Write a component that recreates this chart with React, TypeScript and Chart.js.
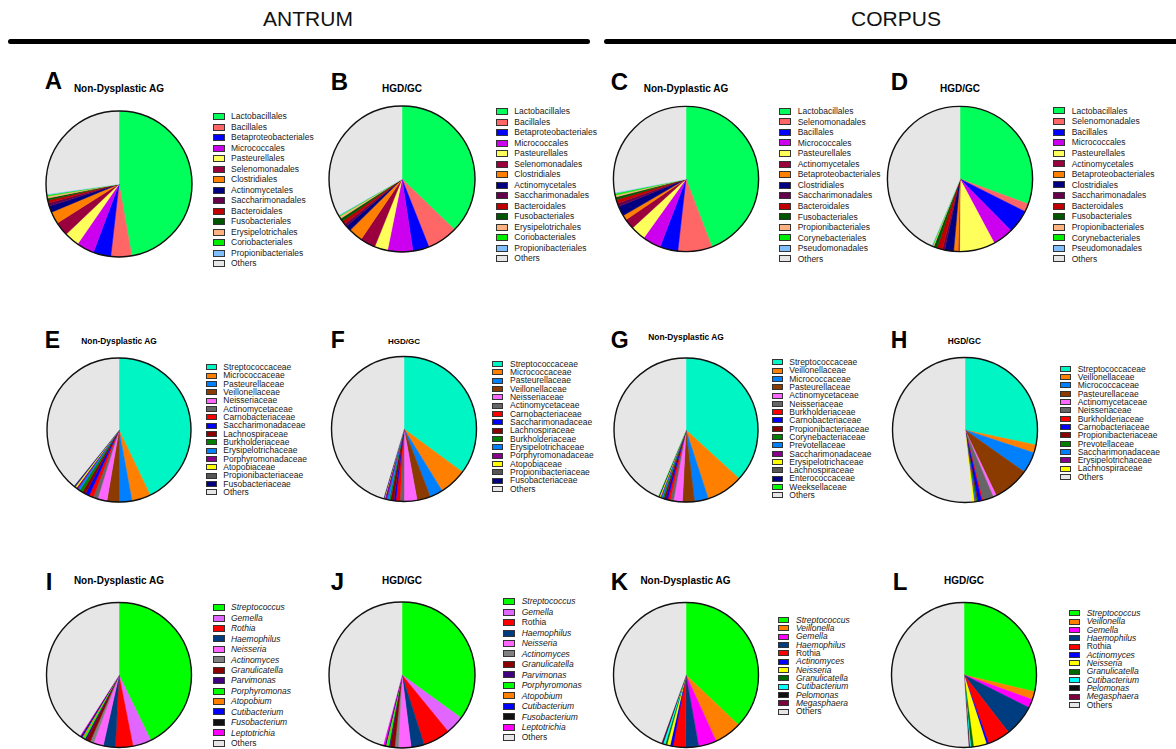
import React, { useEffect, useRef } from 'react';
import { Chart, registerables } from 'chart.js';
Chart.register(...registerables);

const FONT = '"Liberation Sans", Arial, Helvetica, sans-serif';

// ---------- Order level (row 1) ----------
const orderLabelsAB = ['Lactobacillales', 'Bacillales', 'Betaproteobacteriales', 'Micrococcales', 'Pasteurellales', 'Selenomonadales', 'Clostridiales', 'Actinomycetales', 'Saccharimonadales', 'Bacteroidales', 'Fusobacteriales', 'Erysipelotrichales', 'Coriobacteriales', 'Propionibacteriales', 'Others'];
const orderLabelsCD = ['Lactobacillales', 'Selenomonadales', 'Bacillales', 'Micrococcales', 'Pasteurellales', 'Actinomycetales', 'Betaproteobacteriales', 'Clostridiales', 'Saccharimonadales', 'Bacteroidales', 'Fusobacteriales', 'Propionibacteriales', 'Corynebacteriales', 'Pseudomonadales', 'Others'];
const orderColors = ['#00FF5A', '#FF6666', '#0000FF', '#CC00EE', '#FFFF5C', '#99003D', '#FF8000', '#000080', '#66004D', '#C00000', '#005500', '#FFB27F', '#00EE00', '#7FBFFF', '#E6E6E6'];
const valuesA = [47.2, 4.6, 3.9, 3.9, 3.3, 3.1, 2.7, 1.4, 0.7, 0.6, 0.5, 0.4, 0.3, 0.2, 27.2];
const valuesB = [37.2, 6.8, 3.6, 5.6, 2.9, 3.4, 3.1, 1.2, 0.6, 0.8, 0.7, 0.5, 0.2, 0.2, 33.2];
const valuesC = [44.2, 7.6, 4.0, 4.1, 3.3, 2.3, 1.1, 2.2, 0.8, 0.8, 0.6, 0.4, 0.4, 0.2, 28.0];
const valuesD = [30.6, 1.8, 5.2, 4.6, 7.9, 0.3, 1.0, 2.0, 0.5, 1.2, 0.8, 0.2, 0.2, 0.1, 43.6];

// ---------- Family level (row 2) ----------
const familyLabelsEF = ['Streptococcaceae', 'Micrococcaceae', 'Pasteurellaceae', 'Veillonellaceae', 'Neisseriaceae', 'Actinomycetaceae', 'Carnobacteriaceae', 'Saccharimonadaceae', 'Lachnospiraceae', 'Burkholderiaceae', 'Erysipelotrichaceae', 'Porphyromonadaceae', 'Atopobiaceae', 'Propionibacteriaceae', 'Fusobacteriaceae', 'Others'];
const familyColorsEF = ['#00F5C4', '#FF8000', '#0080FF', '#8B3A00', '#FF66FF', '#666666', '#FF0000', '#0000FF', '#8B0000', '#008000', '#0080FF', '#8B008B', '#FFFF00', '#555555', '#000080', '#E6E6E6'];
const valuesE = [42.9, 4.2, 2.9, 2.7, 2.1, 1.0, 1.0, 0.9, 0.8, 0.7, 0.5, 0.4, 0.3, 0.2, 0.2, 39.2];
const valuesF = [35.1, 6.1, 2.9, 3.0, 2.9, 0.9, 0.9, 0.45, 0.75, 0.3, 0.5, 0.5, 0.1, 0.1, 0.1, 45.4];

const familyLabelsG = ['Streptococcaceae', 'Veillonellaceae', 'Micrococcaceae', 'Pasteurellaceae', 'Actinomycetaceae', 'Neisseriaceae', 'Burkholderiaceae', 'Carnobacteriaceae', 'Propionibacteriaceae', 'Corynebacteriaceae', 'Prevotellaceae', 'Saccharimonadaceae', 'Erysipelotrichaceae', 'Lachnospiraceae', 'Enterococcaceae', 'Weeksellaceae', 'Others'];
const familyColorsG = ['#00F5C4', '#FF8000', '#0080FF', '#8B3A00', '#FF66FF', '#666666', '#FF0000', '#0000FF', '#8B0000', '#008000', '#0080FF', '#8B008B', '#FFFF00', '#555555', '#000080', '#00FF00', '#E6E6E6'];
const valuesG = [36.8, 8.2, 3.1, 2.7, 2.0, 0.7, 0.6, 0.5, 0.4, 0.3, 0.3, 0.2, 0.2, 0.15, 0.1, 0.1, 43.65];

const familyLabelsH = ['Streptococcaceae', 'Veillonellaceae', 'Micrococcaceae', 'Pasteurellaceae', 'Actinomycetaceae', 'Neisseriaceae', 'Burkholderiaceae', 'Carnobacteriaceae', 'Propionibacteriaceae', 'Prevotellaceae', 'Saccharimonadaceae', 'Erysipelotrichaceae', 'Lachnospiraceae', 'Others'];
const familyColorsH = ['#00F5C4', '#FF8000', '#0080FF', '#8B3A00', '#FF66FF', '#666666', '#FF0000', '#0000FF', '#8B0000', '#008000', '#0080FF', '#8B008B', '#FFFF00', '#E6E6E6'];
const valuesH = [28.3, 1.8, 4.7, 8.1, 0.75, 2.4, 0.3, 0.8, 0.2, 0.3, 0.2, 0.1, 0.5, 51.55];

// ---------- Genus level (row 3) ----------
const genusLabelsIJ = ['Streptococcus', 'Gemella', 'Rothia', 'Haemophilus', 'Neisseria', 'Actinomyces', 'Granulicatella', 'Parvimonas', 'Porphyromonas', 'Atopobium', 'Cutibacterium', 'Fusobacterium', 'Leptotrichia', 'Others'];
const genusColorsIJ = ['#00FF00', '#E066FF', '#FF0000', '#003D80', '#FF66FF', '#808080', '#8B0000', '#400080', '#00FF00', '#FF8000', '#0000FF', '#111111', '#FF00FF', '#E6E6E6'];
const valuesI = [42.8, 4.1, 3.9, 2.7, 2.2, 0.8, 0.9, 0.4, 0.4, 0.3, 0.2, 0.2, 0.2, 40.9];
const valuesJ = [35.0, 4.1, 6.0, 2.9, 2.8, 0.8, 1.0, 0.3, 0.5, 0.2, 0.1, 0.1, 0.4, 45.8];

const genusLabelsKL = ['Streptococcus', 'Veillonella', 'Gemella', 'Haemophilus', 'Rothia', 'Actinomyces', 'Neisseria', 'Granulicatella', 'Cutibacterium', 'Pelomonas', 'Megasphaera', 'Others'];
const genusColorsKL = ['#00FF00', '#FF8000', '#FF00FF', '#003D80', '#FF0000', '#0000FF', '#FFFF00', '#006600', '#00FFFF', '#111111', '#800040', '#E6E6E6'];
const valuesK = [37.1, 6.1, 4.0, 2.9, 2.75, 0.7, 0.7, 0.4, 0.5, 0.2, 0.2, 44.45];
const valuesL = [28.7, 1.8, 1.9, 7.1, 5.0, 0.5, 2.9, 0.6, 0.3, 0.1, 0.1, 51.0];

const uprightI = ['Others'];
const uprightJ = ['Rothia', 'Others'];
const uprightKL = ['Rothia', 'Others'];

const outlinePlugin = {
  id: 'outline',
  afterDatasetsDraw(chart: any) {
    const arc = chart.getDatasetMeta(0).data[0];
    if (!arc) return;
    const p = arc.getProps(['x', 'y', 'outerRadius'], true);
    const ctx = chart.ctx;
    ctx.save();
    ctx.beginPath();
    ctx.arc(p.x, p.y, p.outerRadius, 0, Math.PI * 2);
    ctx.lineWidth = 1.4;
    ctx.strokeStyle = '#111';
    ctx.stroke();
    ctx.restore();
  },
};

type PieProps = { cx: number; cy: number; r: number; labels: string[]; values: number[]; colors: string[] };

function Pie({ cx, cy, r, labels, values, colors }: PieProps) {
  const ref = useRef<HTMLCanvasElement>(null);
  const half = Math.ceil(r) + 5;
  useEffect(() => {
    const chart = new Chart(ref.current as HTMLCanvasElement, {
      type: 'pie',
      data: {
        labels,
        datasets: [{ data: values, backgroundColor: colors, borderColor: colors, borderWidth: 0.5, hoverOffset: 0 }],
      },
      options: {
        responsive: false,
        animation: false,
        events: [],
        radius: r,
        layout: { padding: 0 },
        plugins: { legend: { display: false }, tooltip: { enabled: false }, title: { display: false } },
      } as any,
      plugins: [outlinePlugin],
    });
    return () => chart.destroy();
  }, []);
  return (
    <canvas
      ref={ref}
      width={half * 2}
      height={half * 2}
      style={{ position: 'absolute', left: Math.round(cx) - half, top: Math.round(cy) - half, width: half * 2, height: half * 2 }}
    />
  );
}

type LegendProps = {
  bx: number; tx: number; y0: number; step: number; bw: number; bh: number;
  labels: string[]; colors: string[]; italic?: boolean; upright?: string[];
};

function Legend({ bx, tx, y0, step, bw, bh, labels, colors, italic, upright }: LegendProps) {
  return (
    <>
      {labels.map((lab, i) => (
        <div
          key={lab + i}
          style={{ position: 'absolute', left: bx, top: y0 + i * step - step / 2, height: step, display: 'flex', alignItems: 'center', whiteSpace: 'nowrap' }}
        >
          <div style={{ width: bw, height: bh, boxSizing: 'border-box', border: '1px solid #333', background: colors[i], flex: 'none' }} />
          <span
            style={{
              marginLeft: tx - bx - bw,
              fontSize: 8.5,
              lineHeight: `${step}px`,
              color: '#1a1a1a',
              fontFamily: FONT,
              fontStyle: italic && !(upright || []).includes(lab) ? 'italic' : 'normal',
            }}
          >
            {lab}
          </span>
        </div>
      ))}
    </>
  );
}

function Title({ cx, cy, fs, text }: { cx: number; cy: number; fs: number; text: string }) {
  return (
    <div style={{ position: 'absolute', left: cx - 100, width: 200, top: cy - 0.4885 * fs, height: fs, lineHeight: `${fs}px`, fontSize: fs, fontWeight: 'bold', textAlign: 'center', fontFamily: FONT, color: '#000', whiteSpace: 'nowrap' }}>
      {text}
    </div>
  );
}

function Letter({ x, capTop, fs, text }: { x: number; capTop: number; fs: number; text: string }) {
  return (
    <div style={{ position: 'absolute', left: x - 0.05 * fs, top: capTop - 0.1305 * fs, height: fs, lineHeight: `${fs}px`, fontSize: fs, fontWeight: 'bold', fontFamily: FONT, color: '#000' }}>
      {text}
    </div>
  );
}

export default function App() {
  useEffect(() => {
    document.body.style.margin = '0';
    document.body.style.background = '#fff';
  }, []);
  const big = { bw: 12, bh: 7 };
  const small = { bw: 11, bh: 6 };
  return (
    <div style={{ position: 'absolute', left: 0, top: 0, width: 1176, height: 749, background: '#fff', overflow: 'hidden', fontFamily: FONT }}>
      {/* headers */}
      <div style={{ position: 'absolute', left: 208, width: 200, top: 8, fontSize: 21, lineHeight: '21px', textAlign: 'center', color: '#111' }}>ANTRUM</div>
      <div style={{ position: 'absolute', left: 796, width: 200, top: 8, fontSize: 21, lineHeight: '21px', textAlign: 'center', color: '#111' }}>CORPUS</div>
      <div style={{ position: 'absolute', left: 8, width: 582, top: 39, height: 5, background: '#000', borderRadius: 2.5 }} />
      <div style={{ position: 'absolute', left: 604, width: 580, top: 39, height: 5, background: '#000', borderRadius: 2.5 }} />

      {/* Row 1 */}
      <Letter x={46} capTop={72} fs={24} text="A" />
      <Title cx={119} cy={89} fs={10} text="Non-Dysplastic AG" />
      <Pie cx={119} cy={184} r={73} labels={orderLabelsAB} values={valuesA} colors={orderColors} />
      <Legend bx={213} tx={231} y0={116.7} step={10.5} {...big} labels={orderLabelsAB} colors={orderColors} />

      <Letter x={332} capTop={73} fs={24} text="B" />
      <Title cx={402} cy={89} fs={10} text="HGD/GC" />
      <Pie cx={402} cy={179} r={73} labels={orderLabelsAB} values={valuesB} colors={orderColors} />
      <Legend bx={496} tx={514.3} y0={111.7} step={10.5} {...big} labels={orderLabelsAB} colors={orderColors} />

      <Letter x={612} capTop={73} fs={24} text="C" />
      <Title cx={686} cy={89} fs={10} text="Non-Dyplastic AG" />
      <Pie cx={686} cy={179} r={72.6} labels={orderLabelsCD} values={valuesC} colors={orderColors} />
      <Legend bx={779.3} tx={797.7} y0={111.3} step={10.55} {...big} labels={orderLabelsCD} colors={orderColors} />

      <Letter x={892} capTop={73} fs={24} text="D" />
      <Title cx={960} cy={89} fs={10} text="HGD/GC" />
      <Pie cx={960} cy={179} r={72.6} labels={orderLabelsCD} values={valuesD} colors={orderColors} />
      <Legend bx={1053.3} tx={1071.7} y0={111} step={10.57} {...big} labels={orderLabelsCD} colors={orderColors} />

      {/* Row 2 */}
      <Letter x={46} capTop={332} fs={23} text="E" />
      <Title cx={119} cy={341} fs={8.4} text="Non-Dysplastic AG" />
      <Pie cx={119} cy={430} r={72} labels={familyLabelsEF} values={valuesE} colors={familyColorsEF} />
      <Legend bx={205.7} tx={223.3} y0={367.3} step={8.33} {...small} labels={familyLabelsEF} colors={familyColorsEF} />

      <Letter x={332} capTop={332.5} fs={23} text="F" />
      <Title cx={404} cy={342} fs={8} text="HGD/GC" />
      <Pie cx={404} cy={429} r={72.5} labels={familyLabelsEF} values={valuesF} colors={familyColorsEF} />
      <Legend bx={492.3} tx={510} y0={364} step={8.33} {...small} labels={familyLabelsEF} colors={familyColorsEF} />

      <Letter x={612} capTop={332} fs={23} text="G" />
      <Title cx={686} cy={337.5} fs={8.4} text="Non-Dysplastic AG" />
      <Pie cx={686} cy={430} r={72} labels={familyLabelsG} values={valuesG} colors={familyColorsG} />
      <Legend bx={771.7} tx={789.3} y0={362.3} step={8.31} {...small} labels={familyLabelsG} colors={familyColorsG} />

      <Letter x={892} capTop={332} fs={23} text="H" />
      <Title cx={964.3} cy={341} fs={8.3} text="HGD/GC" />
      <Pie cx={964.5} cy={430} r={72.5} labels={familyLabelsH} values={valuesH} colors={familyColorsH} />
      <Legend bx={1060} tx={1077.7} y0={368.7} step={8.33} {...small} labels={familyLabelsH} colors={familyColorsH} />

      {/* Row 3 */}
      <Letter x={47} capTop={573} fs={24} text="I" />
      <Title cx={119} cy={581} fs={10} text="Non-Dysplastic AG" />
      <Pie cx={119} cy={674.5} r={72.5} labels={genusLabelsIJ} values={valuesI} colors={genusColorsIJ} />
      <Legend bx={212.7} tx={231} y0={607.7} step={10.43} {...big} labels={genusLabelsIJ} colors={genusColorsIJ} italic upright={uprightI} />

      <Letter x={332} capTop={573} fs={24} text="J" />
      <Title cx={402} cy={581} fs={10} text="HGD/GC" />
      <Pie cx={402} cy={674.5} r={73} labels={genusLabelsIJ} values={valuesJ} colors={genusColorsIJ} />
      <Legend bx={503.3} tx={521.7} y0={601.7} step={10.46} {...big} labels={genusLabelsIJ} colors={genusColorsIJ} italic upright={uprightJ} />

      <Letter x={612} capTop={573} fs={24} text="K" />
      <Title cx={685.5} cy={581} fs={10} text="Non-Dysplastic AG" />
      <Pie cx={685.5} cy={675} r={72.5} labels={genusLabelsKL} values={valuesK} colors={genusColorsKL} />
      <Legend bx={777.7} tx={796} y0={620} step={8.33} bw={11.6} bh={6} labels={genusLabelsKL} colors={genusColorsKL} italic upright={uprightKL} />

      <Letter x={894} capTop={573} fs={24} text="L" />
      <Title cx={964} cy={581} fs={10} text="HGD/GC" />
      <Pie cx={964} cy={674.5} r={72.5} labels={genusLabelsKL} values={valuesL} colors={genusColorsKL} />
      <Legend bx={1069} tx={1086.7} y0={613.3} step={8.33} {...small} labels={genusLabelsKL} colors={genusColorsKL} italic upright={uprightKL} />
    </div>
  );
}
